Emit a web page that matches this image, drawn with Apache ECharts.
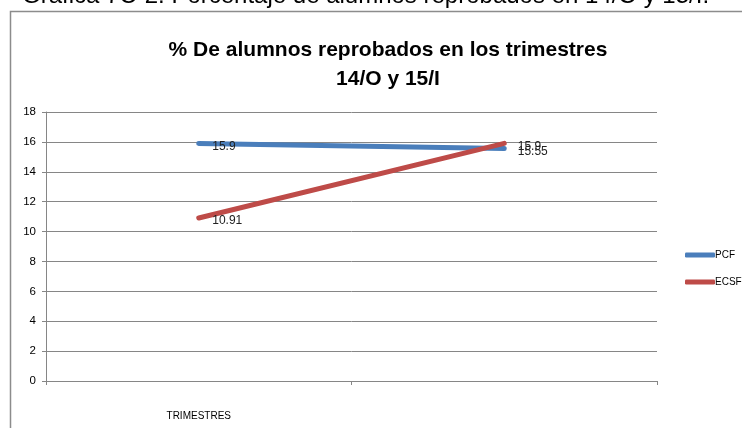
<!DOCTYPE html>
<html>
<head>
<meta charset="utf-8">
<script src="https://cdn.jsdelivr.net/npm/echarts@6/dist/echarts.min.js"></script>
<style>
  html, body { margin: 0; padding: 0; background: #fff; }
  #main { width: 742px; height: 428px; }
</style>
</head>
<body>
<div id="main"></div>
<script>
// datos
const categories = ['TRIMESTRES', '']
const pcf = [15.9, 15.55]
const ecsf = [10.91, 15.9]
const yTicks = { min: 0, max: 18, interval: 2 }

const myChart = echarts.init(document.getElementById('main'))
const narrow = '"Liberation Sans Narrow", "Liberation Sans", sans-serif'

const lineLabel = {
  show: true,
  position: 'right',
  distance: 13,
  offset: [0, 3],
  color: '#222',
  fontSize: 12,
  fontFamily: 'Liberation Sans, sans-serif'
}

const option = {
  animation: false,
  color: ['#4a7ebb', '#be4b48'],
  title: {
    text: '% De alumnos reprobados en los trimestres\n14/O y 15/I',
    left: 383,
    textAlign: 'center',
    top: 31,
    textStyle: {
      fontFamily: narrow,
      fontWeight: 'bold',
      fontSize: 21,
      lineHeight: 29,
      color: '#000'
    }
  },
  graphic: [
    {
      type: 'text',
      left: 22,
      top: -16,
      style: {
        text: 'Gráfica 7C-2. Porcentaje de alumnos reprobados en 14/O y 15/I.',
        font: '24px "Liberation Sans", sans-serif',
        fill: '#000'
      }
    },
    {
      type: 'polyline',
      shape: { points: [[10.5, 428], [10.5, 11.5], [742, 11.5]] },
      style: { stroke: '#8c8c8c', lineWidth: 1.5, fill: null }
    }
  ],
  legend: {
    orient: 'vertical',
    left: 680,
    top: 245,
    itemWidth: 30,
    itemHeight: 5,
    itemGap: 17,
    icon: 'roundRect',
    textStyle: { fontFamily: narrow, fontSize: 10, color: '#000', padding: [0, 0, 0, -5] },
    data: ['PCF', 'ECSF']
  },
  grid: { left: 46, right: 85, top: 112, bottom: 47 },
  xAxis: {
    type: 'category',
    data: categories,
    boundaryGap: true,
    axisLine: { lineStyle: { color: '#868686' } },
    axisTick: { show: true, length: 4, lineStyle: { color: '#868686' } },
    axisLabel: { margin: 30, fontFamily: narrow, fontSize: 10, color: '#000' }
  },
  yAxis: {
    type: 'value',
    min: yTicks.min,
    max: yTicks.max,
    interval: yTicks.interval,
    axisLine: { show: true, lineStyle: { color: '#868686' } },
    axisTick: { show: true, length: 4, lineStyle: { color: '#868686' } },
    axisLabel: { margin: 10, fontFamily: 'Liberation Sans, sans-serif', fontSize: 11.5, color: '#000' },
    splitLine: { lineStyle: { color: '#868686', width: 1 } }
  },
  series: [
    {
      name: 'PCF',
      type: 'line',
      data: pcf,
      symbol: 'circle',
      symbolSize: 1,
      showSymbol: true,
      lineStyle: { width: 5, cap: 'round' },
      label: lineLabel
    },
    {
      name: 'ECSF',
      type: 'line',
      data: ecsf,
      symbol: 'circle',
      symbolSize: 1,
      showSymbol: true,
      lineStyle: { width: 5, cap: 'round' },
      label: lineLabel
    }
  ]
}

myChart.setOption(option)
</script>
</body>
</html>
